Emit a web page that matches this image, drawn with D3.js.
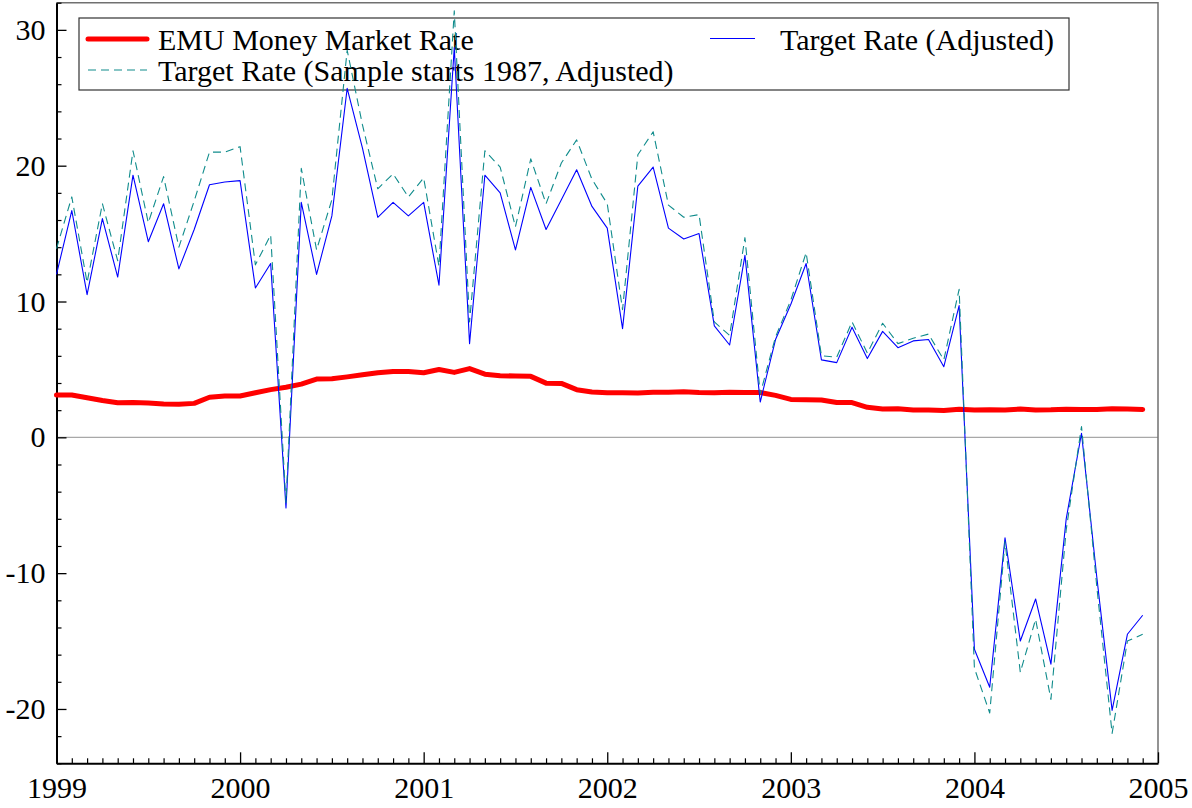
<!DOCTYPE html>
<html>
<head>
<meta charset="utf-8">
<script src="https://cdn.jsdelivr.net/npm/d3@7/dist/d3.min.js"></script>
<style>
  html, body { margin: 0; padding: 0; background: #fff; }
  svg { display: block; }
  svg text { font-family: 'Liberation Serif', 'Times New Roman', Times, serif !important; }
</style>
</head>
<body>
<svg id="chart" width="1192" height="808"></svg>
<script>
// Monthly data, Jan 1999 .. Dec 2004
const startYear = 1999;
const emuRate = [
  3.12, 3.12, 2.92, 2.71, 2.55, 2.56, 2.52, 2.45, 2.43, 2.50, 2.95, 3.04,
  3.04, 3.28, 3.51, 3.69, 3.92, 4.29, 4.31, 4.45, 4.60, 4.76, 4.85, 4.85,
  4.76, 4.99, 4.78, 5.06, 4.65, 4.54, 4.51, 4.49, 3.99, 3.97, 3.51, 3.34,
  3.29, 3.28, 3.26, 3.32, 3.31, 3.35, 3.30, 3.29, 3.32, 3.30, 3.30, 3.09,
  2.79, 2.76, 2.75, 2.56, 2.56, 2.21, 2.08, 2.10, 2.02, 2.01, 1.97, 2.06,
  2.02, 2.03, 2.01, 2.08, 2.02, 2.03, 2.07, 2.04, 2.05, 2.11, 2.09, 2.05
];
const targetAdj = [
  12.0, 16.7, 10.5, 16.1, 11.8, 19.3, 14.4, 17.2, 12.4, 15.3, 18.6, 18.8,
  18.9, 11.0, 12.8, -5.2, 17.3, 12.0, 16.3, 25.7, 21.3, 16.2, 17.3, 16.3,
  17.3, 11.2, 28.7, 6.9, 19.3, 18.0, 13.8, 18.4, 15.3, 17.5, 19.7, 17.0,
  15.4, 8.0, 18.5, 19.9, 15.4, 14.6, 15.0, 8.2, 6.8, 13.4, 2.6, 7.2,
  9.8, 12.8, 5.7, 5.5, 8.1, 5.8, 7.8, 6.6, 7.1, 7.2, 5.2, 9.7,
  -15.6, -18.4, -7.4, -15.0, -11.9, -16.7, -6.0, 0.3, -10.3, -20.1, -14.5, -13.1
];
const target1987 = [
  13.9, 17.7, 11.4, 17.2, 13.0, 21.1, 15.8, 19.2, 14.0, 17.4, 21.0, 21.0,
  21.4, 12.7, 14.9, -4.8, 19.8, 13.8, 17.5, 28.5, 23.0, 18.3, 19.4, 17.7,
  19.1, 12.6, 31.4, 8.5, 21.1, 19.9, 15.5, 20.5, 17.2, 20.2, 21.9, 19.0,
  17.2, 9.4, 20.8, 22.5, 17.1, 16.2, 16.4, 8.5, 7.5, 14.7, 3.2, 7.4,
  10.1, 13.6, 6.0, 5.9, 8.5, 6.2, 8.4, 6.9, 7.3, 7.6, 5.7, 10.9,
  -17.0, -20.3, -7.7, -17.3, -13.4, -19.3, -6.8, 0.8, -11.0, -21.8, -15.0, -14.5
];
const xTickYears = [1999, 2000, 2001, 2002, 2003, 2004, 2005];
const yTickValues = [-20, -10, 0, 10, 20, 30];
const seriesNames = [
  "EMU Money Market Rate",
  "Target Rate (Adjusted)",
  "Target Rate (Sample starts 1987, Adjusted)"
];

const FONT = "'Liberation Serif', 'Times New Roman', Times, serif";
const svg = d3.select("#chart");
const L = 56.5, R = 1158, T = 2.7, B = 763.3;

const x = d3.scaleLinear().domain([1999, 2005]).range([L, R]);
const y = d3.scaleLinear().domain([-24, 32]).range([B, T]);

const t = i => startYear + i / 12;
const plainFmt = d => String(d);   // ASCII hyphen-minus, as in the original

// zero line
svg.append("line")
  .attr("x1", L).attr("x2", R).attr("y1", y(0)).attr("y2", y(0))
  .attr("stroke", "#a8a8a8").attr("stroke-width", 1.3);

// frame: top and right
svg.append("path")
  .attr("d", `M${L},${T}H${R}V${B}`)
  .attr("fill", "none").attr("stroke", "#707070").attr("stroke-width", 1.5);

// minor ticks
const monthTicks = d3.range(0, 73).map(t).filter((v, i) => i % 12 !== 0);
const yMinor = d3.range(-24, 33, 2).filter(v => v % 10 !== 0);

svg.append("g").attr("transform", `translate(0,${B})`)
  .call(d3.axisBottom(x).tickValues(monthTicks).tickSize(-5).tickSizeOuter(0).tickFormat(""))
  .call(g => g.select(".domain").remove())
  .call(g => g.selectAll("line").attr("stroke", "#000").attr("stroke-width", 1.2));

svg.append("g").attr("transform", `translate(${L},0)`)
  .call(d3.axisLeft(y).tickValues(yMinor).tickSize(-5).tickSizeOuter(0).tickFormat(""))
  .call(g => g.select(".domain").remove())
  .call(g => g.selectAll("line").attr("stroke", "#000").attr("stroke-width", 1.2));

// major axes
const xAxis = svg.append("g").attr("transform", `translate(0,${B})`)
  .call(d3.axisBottom(x).tickValues(xTickYears).tickSize(-11).tickSizeOuter(0)
        .tickPadding(13.5).tickFormat(plainFmt));
xAxis.attr("font-family", FONT);
xAxis.select(".domain").attr("stroke", "#000").attr("stroke-width", 2);
xAxis.selectAll("line").attr("stroke", "#000").attr("stroke-width", 1.3);
xAxis.selectAll("text").attr("font-size", 30).attr("fill", "#000")
  .attr("font-family", FONT);

const yAxis = svg.append("g").attr("transform", `translate(${L},0)`)
  .call(d3.axisLeft(y).tickValues(yTickValues).tickSize(-10).tickSizeOuter(0)
        .tickPadding(11).tickFormat(plainFmt));
yAxis.attr("font-family", FONT);
yAxis.select(".domain").attr("stroke", "#000").attr("stroke-width", 2);
yAxis.selectAll("line").attr("stroke", "#000").attr("stroke-width", 1.3);
yAxis.selectAll("text").attr("font-size", 30).attr("fill", "#000")
  .attr("font-family", FONT);

// legend box (drawn before the lines; no fill)
const legend = svg.append("g");
legend.append("rect")
  .attr("x", 79).attr("y", 18).attr("width", 990).attr("height", 72)
  .attr("fill", "none").attr("stroke", "#333").attr("stroke-width", 1.2);

const styles = [
  { color: "#ff0000", width: 5, dash: null },
  { color: "#0000ff", width: 1.1, dash: null },
  { color: "#108c8c", width: 1.1, dash: "8,5" }
];
const data = [emuRate, targetAdj, target1987];

const line = d3.line().x((d, i) => x(t(i))).y(d => y(d));

data.forEach((s, k) => {
  svg.append("path").datum(s)
    .attr("d", line)
    .attr("fill", "none")
    .attr("stroke", styles[k].color)
    .attr("stroke-width", styles[k].width)
    .attr("stroke-linejoin", "round")
    .attr("stroke-linecap", k === 0 ? "round" : "butt")
    .attr("stroke-dasharray", styles[k].dash);
});

// legend entries
const legItems = [
  { x1: 88, x2: 147, ly: 39, tx: 158, ty: 49.5 },
  { x1: 710, x2: 755, ly: 38.5, tx: 780, ty: 49.5 },
  { x1: 88, x2: 147, ly: 70, tx: 158, ty: 81 }
];
legItems.forEach((it, k) => {
  legend.append("line")
    .attr("x1", it.x1).attr("x2", it.x2).attr("y1", it.ly).attr("y2", it.ly)
    .attr("stroke", styles[k].color)
    .attr("stroke-width", styles[k].width)
    .attr("stroke-linecap", k === 0 ? "round" : "butt")
    .attr("stroke-dasharray", styles[k].dash);
  legend.append("text")
    .attr("x", it.tx).attr("y", it.ty)
    .attr("font-size", 30).attr("fill", "#000")
    .attr("font-family", FONT)
    .text(seriesNames[k]);
});
</script>
</body>
</html>
